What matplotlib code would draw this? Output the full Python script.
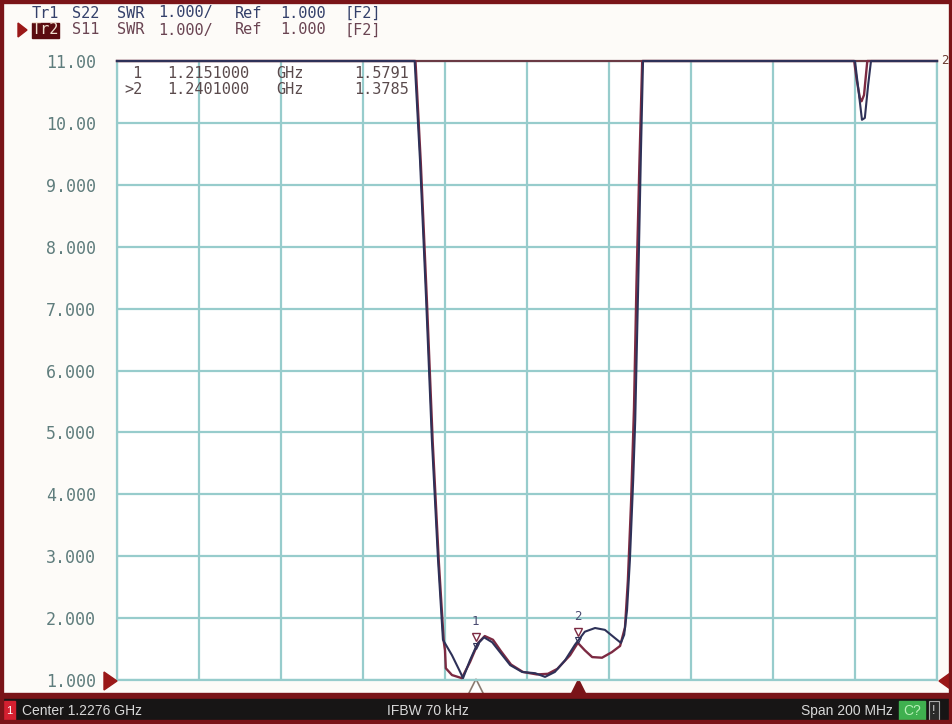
import numpy as np
import matplotlib
matplotlib.use("Agg")
import matplotlib.pyplot as plt
from matplotlib.patches import Rectangle, Polygon
from matplotlib.transforms import blended_transform_factory

# Analyzer settings
center_ghz = 1.2276
span_ghz = 0.200
ref_bottom = 1.0
ref_top = 11.0
y_labels = ["1.000", "2.000", "3.000", "4.000", "5.000", "6.000",
            "7.000", "8.000", "9.000", "10.00", "11.00"]
hdr1_words = ["Tr1", "S22", "SWR", "1.000/", "Ref", "1.000", "[F2]"]
hdr2_words = ["Tr2", "S11", "SWR", "1.000/", "Ref", "1.000", "[F2]"]

# Tr1 S22 (GHz / SWR, clamped at top of screen)
tr1_freq = [1.1276, 1.2002, 1.2015, 1.2030, 1.2044, 1.2059, 1.2071,
            1.2093, 1.2113, 1.2120, 1.2137, 1.2154, 1.2171, 1.2191,
            1.2210, 1.2235, 1.2264, 1.2296, 1.2320, 1.2344, 1.2369,
            1.2393, 1.2417, 1.2442, 1.2466, 1.2490, 1.2505, 1.2513,
            1.2520, 1.2527, 1.2535, 1.2540, 1.2547, 1.2554, 1.2559,
            1.3076, 1.3083, 1.3093, 1.3100, 1.3108, 1.3115, 1.3276]
tr1_swr = [11.0, 11.0, 9.40, 7.14, 4.88, 2.94, 1.65,
           1.40, 1.13, 1.03, 1.32, 1.57, 1.69, 1.61,
           1.45, 1.24, 1.13, 1.11, 1.05, 1.13, 1.32,
           1.57, 1.78, 1.84, 1.81, 1.68, 1.60, 1.73,
           2.13, 2.94, 4.23, 5.20, 7.30, 9.56, 11.0,
           11.0, 10.61, 10.05, 10.08, 10.61, 11.0, 11.0]

# Tr2 S11
tr2_freq = [1.1276, 1.2004, 1.2017, 1.2032, 1.2046, 1.2061, 1.2073,
            1.2076, 1.2078, 1.2093, 1.2117, 1.2137, 1.2157, 1.2173,
            1.2193, 1.2212, 1.2237, 1.2266, 1.2300, 1.2327, 1.2350,
            1.2381, 1.2400, 1.2417, 1.2435, 1.2459, 1.2483, 1.2503,
            1.2515, 1.2522, 1.2530, 1.2537, 1.2543, 1.2550, 1.2557,
            1.3074, 1.3080, 1.3088, 1.3092, 1.3098, 1.3106, 1.3276]
tr2_swr = [11.0, 11.0, 9.35, 7.10, 4.85, 2.90, 1.62,
           1.48, 1.19, 1.08, 1.03, 1.29, 1.60, 1.71,
           1.65, 1.47, 1.25, 1.13, 1.09, 1.10, 1.18,
           1.40, 1.60, 1.48, 1.37, 1.36, 1.45, 1.55,
           1.85, 2.60, 3.90, 5.40, 7.40, 9.30, 11.0,
           11.0, 10.70, 10.40, 10.35, 10.45, 11.0, 11.0]

marker_freqs = [1.2151, 1.2401]
marker_vals = [1.5791, 1.3785]

tr1_color = "#2e3158"
tr2_color = "#7c2a42"
grid_color = "#97cccc"
frame_red = "#7a1418"
mono = "DejaVu Sans Mono"

W, H = 953, 724
fig = plt.figure(figsize=(W / 100, H / 100), dpi=100)
fig.patch.set_facecolor("#fdfbf8")


def fx(px):
    return px / W


def fy(py):
    return 1 - py / H


ax = fig.add_axes([fx(117), fy(680), fx(937) - fx(117), fy(61) - fy(680)])
ax.set_facecolor("white")

f0 = center_ghz - span_ghz / 2
f1 = center_ghz + span_ghz / 2
ax.set_xlim(f0, f1)
ax.set_ylim(ref_bottom, ref_top)
ax.set_xticks(np.linspace(f0, f1, 11))
ax.set_xticklabels([])
ax.set_yticks(np.arange(ref_bottom, ref_top + 0.5, 1.0))
ax.set_yticklabels(y_labels, family=mono, fontsize=12, color="#5f7d7d")
ax.tick_params(length=0, pad=15)
ax.grid(True, color=grid_color, lw=1.6)
for s in ["left", "right", "bottom"]:
    ax.spines[s].set_color(grid_color)
    ax.spines[s].set_linewidth(1.6)
ax.spines["top"].set_color("#6a3a44")
ax.spines["top"].set_linewidth(1.6)

ax.plot(tr2_freq, tr2_swr, color=tr2_color, lw=1.7, clip_on=False, zorder=3)
ax.plot(tr1_freq, tr1_swr, color=tr1_color, lw=1.5, clip_on=False, zorder=4)

# markers on the traces
for i, f in enumerate(marker_freqs):
    v = np.interp(f, tr2_freq, tr2_swr)
    ax.plot(f, v + 0.18, marker="v", ms=6, mfc="none", mec=tr2_color,
            mew=1.0, zorder=5)
    ax.plot(f, v + 0.05, marker="v", ms=5, mfc="none", mec=tr1_color,
            mew=0.8, zorder=5)
    ax.text(f, v + 0.33, str(i + 1), ha="center", va="bottom",
            family=mono, fontsize=9, color="#4a4a70", zorder=5)

# marker triangles under the grid
tb = blended_transform_factory(ax.transData, ax.transAxes)
ax.plot(marker_freqs[0], -0.012, marker="^", ms=12, mfc="white",
        mec="#8a7a70", mew=1.2, transform=tb, clip_on=False)
ax.plot(marker_freqs[1], -0.012, marker="^", ms=12, mfc=frame_red,
        mec=frame_red, transform=tb, clip_on=False)

# reference level triangles
fig.patches.append(Polygon([[fx(104), fy(672)], [fx(104), fy(690)],
                            [fx(117), fy(681)]], closed=True,
                           transform=fig.transFigure, color="#9a1818"))
fig.patches.append(Polygon([[fx(953), fy(671)], [fx(953), fy(691)],
                            [fx(939), fy(681)]], closed=True,
                           transform=fig.transFigure, color="#9a1818"))
fig.text(fx(941), fy(60), "2", family=mono, fontsize=9, color="#6a3a30",
         ha="left", va="center")

# marker readout table
rows = [(" 1", marker_freqs[0], marker_vals[0]),
        (">2", marker_freqs[1], marker_vals[1])]
for k, (lab, f, v) in enumerate(rows):
    yy = fy(74 + 16 * k)
    kw = dict(family=mono, fontsize=11, color="#5a4a4c", va="center")
    fig.text(fx(124), yy, lab, **kw)
    fig.text(fx(167), yy, "%.7f" % f, **kw)
    fig.text(fx(276), yy, "GHz", **kw)
    fig.text(fx(354), yy, "%.4f" % v, **kw)

# header lines, word by word like the instrument's wide font
word_x = [32, 72, 117, 158, 235, 280, 345]
hdr = dict(family=mono, fontsize=11, va="center")
for w, xp in zip(hdr1_words, word_x):
    fig.text(fx(xp), fy(13), w, color="#34406a", **hdr)
for j, (w, xp) in enumerate(zip(hdr2_words, word_x)):
    if j == 0:
        fig.text(fx(xp), fy(30), w, color="#f0e0d0", **hdr,
                 bbox=dict(boxstyle="square,pad=0.0", fc="#5a0c10",
                           ec="#5a0c10"))
    else:
        fig.text(fx(xp), fy(30), w, color="#6a4452", **hdr)
fig.patches.append(Polygon([[fx(18), fy(23)], [fx(18), fy(37)],
                            [fx(27), fy(30)]], closed=True,
                           transform=fig.transFigure, color="#9a1818"))

# status bar
fig.patches.append(Rectangle((0, 0), 1, fy(693), transform=fig.transFigure,
                             color=frame_red, zorder=0))
fig.patches.append(Rectangle((0, 0), 1, fy(699), transform=fig.transFigure,
                             color="#171515", zorder=0))
fig.patches.append(Rectangle((fx(4), fy(721)), fx(11), fy(701) - fy(721),
                             transform=fig.transFigure, color="#d42030"))
fig.text(fx(9.5), fy(711), "1", fontsize=8, color="white", ha="center",
         va="center", family="Liberation Sans")
sb = dict(family="Liberation Sans", fontsize=10, color="#d8d8d8", va="center")
fig.text(fx(22), fy(711), "Center 1.2276 GHz", **sb)
fig.text(fx(428), fy(711), "IFBW 70 kHz", ha="center", **sb)
fig.text(fx(893), fy(711), "Span 200 MHz", ha="right", **sb)
fig.patches.append(Rectangle((fx(899), fy(721)), fx(26), fy(701) - fy(721),
                             transform=fig.transFigure, color="#3fb04f"))
fig.text(fx(912), fy(711), "C?", fontsize=10, color="#b8f0b8", ha="center",
         va="center", family="Liberation Sans")
fig.patches.append(Rectangle((fx(929), fy(721)), fx(10), fy(701) - fy(721),
                             transform=fig.transFigure, fc="#2a2a2a",
                             ec="#aaaaaa", lw=0.8))
fig.text(fx(934), fy(711), "!", fontsize=9, color="#dddddd", ha="center",
         va="center", family="Liberation Sans")

# dark red frame around the screen
fig.patches.append(Rectangle((0, 0), 1, 1, transform=fig.transFigure,
                             fill=False, ec=frame_red, lw=6, zorder=10))

fig.savefig("out.png", dpi=100, facecolor=fig.get_facecolor())
